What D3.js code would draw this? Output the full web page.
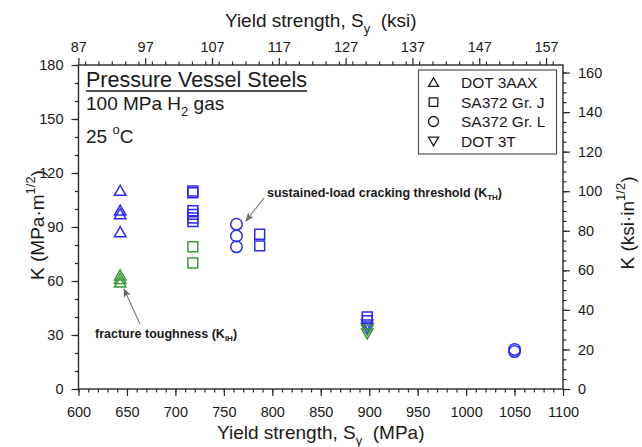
<!DOCTYPE html>
<html>
<head>
<meta charset="utf-8">
<script src="https://cdn.jsdelivr.net/npm/d3@7"></script>
<style>
  html, body { margin: 0; padding: 0; background: #fff; }
  svg { display: block; }
  text { font-family: Arial, "Liberation Sans", sans-serif; fill: #1a1a1a; }
</style>
</head>
<body>
<svg id="chart" width="642" height="447"></svg>
<script>
// Steel grades shown in the legend
const steels = ["DOT 3AAX", "SA372 Gr. J", "SA372 Gr. L", "DOT 3T"];

// [yield strength (MPa), K (MPa·m^1/2)] — sustained-load cracking threshold K_TH
const dot3aaxKTH = [[643, 110], [643, 99], [643, 97], [643, 87]];
const sa372jKTH  = [[718, 110], [718, 109], [718, 99], [718, 97], [718, 95], [718, 93],
                    [787, 86], [787, 79.5], [898, 40], [898, 38]];
const sa372lKTH  = [[763, 91.5], [763, 85], [763, 79], [1050, 22], [1050, 20.8]];
const dot3tKTH   = [[898, 36], [898, 34]];

// [yield strength (MPa), K (MPa·m^1/2)] — fracture toughness K_IH
const dot3aaxKIH = [[643, 63], [643, 61], [643, 59]];
const sa372jKIH  = [[718, 79], [718, 70]];
const dot3tKIH   = [[898, 33], [898, 31]];

// Tick labels
const mpaTicks     = [600, 650, 700, 750, 800, 850, 900, 950, 1000, 1050, 1100];
const ksiTicks     = [87, 97, 107, 117, 127, 137, 147, 157];
const kMetricTicks = [0, 30, 60, 90, 120, 150, 180];
const kUsTicks     = [0, 20, 40, 60, 80, 100, 120, 140, 160];

const MPA_PER_KSI = 6.895;
const MPAM_PER_KSIIN = 1.0988;

const svg = d3.select("#chart");
const L = 78.5, R = 563, T = 65, B = 389;

const x = d3.scaleLinear().domain([600, 1100]).range([L, R]);
const xKsi = d3.scaleLinear().domain([600 / MPA_PER_KSI, 1100 / MPA_PER_KSI]).range([L, R]);
const y = d3.scaleLinear().domain([0, 180]).range([B, T]);
const yUs = d3.scaleLinear().domain([0, 180 / MPAM_PER_KSIIN]).range([B, T]);

const axisColor = "#2a2a2a";
const tickFont = 14.5;

function styleAxis(g) {
  g.select(".domain").remove();
  g.selectAll(".tick line").attr("stroke", axisColor).attr("stroke-width", 1.2);
  g.selectAll(".tick text").attr("font-size", tickFont).attr("fill", "#1a1a1a")
    .attr("font-family", "Arial, 'Liberation Sans', sans-serif");
}

// Minor ticks
const minorMpa = d3.range(600, 1101, 10);
const minorKsi = d3.range(88, 160, 2);
const minorK = d3.range(0, 181, 10);
const minorUs = d3.range(0, 164, 5);

svg.append("g").attr("transform", `translate(0,${B})`)
  .call(d3.axisBottom(x).tickValues(minorMpa).tickSize(3.5).tickFormat(""))
  .call(styleAxis);
svg.append("g").attr("transform", `translate(0,${B})`)
  .call(d3.axisBottom(x).tickValues(mpaTicks).tickSize(7).tickPadding(11).tickFormat(d3.format("d")))
  .call(styleAxis);

svg.append("g").attr("transform", `translate(0,${T})`)
  .call(d3.axisTop(xKsi).tickValues(minorKsi).tickSize(3.5).tickFormat(""))
  .call(styleAxis);
svg.append("g").attr("transform", `translate(0,${T})`)
  .call(d3.axisTop(xKsi).tickValues(ksiTicks).tickSize(7).tickPadding(6).tickFormat(d3.format("d")))
  .call(styleAxis);

svg.append("g").attr("transform", `translate(${L},0)`)
  .call(d3.axisLeft(y).tickValues(minorK).tickSize(3.5).tickFormat(""))
  .call(styleAxis);
svg.append("g").attr("transform", `translate(${L},0)`)
  .call(d3.axisLeft(y).tickValues(kMetricTicks).tickSize(7).tickPadding(8).tickFormat(d3.format("d")))
  .call(styleAxis);

svg.append("g").attr("transform", `translate(${R},0)`)
  .call(d3.axisRight(yUs).tickValues(minorUs).tickSize(3.5).tickFormat(""))
  .call(styleAxis);
svg.append("g").attr("transform", `translate(${R},0)`)
  .call(d3.axisRight(yUs).tickValues(kUsTicks).tickSize(7).tickPadding(8).tickFormat(d3.format("d")))
  .call(styleAxis);

// Frame
svg.append("rect").attr("x", L).attr("y", T).attr("width", R - L).attr("height", B - T)
  .attr("fill", "none").attr("stroke", axisColor).attr("stroke-width", 1.4);

// Text with sub/superscripts
function richText(sel, parts, small) {
  parts.forEach(p => {
    const t = sel.append("tspan").text(p.t);
    if (p.sub) t.attr("font-size", small).attr("dy", 6);
    if (p.sup) t.attr("font-size", small).attr("dy", -9);
    if (p.back) t.attr("dy", p.back);
  });
}

const titleFont = 19;
const cx = (L + R) / 2;

const bottomTitle = svg.append("text").attr("x", cx).attr("y", 439)
  .attr("text-anchor", "middle").attr("font-size", titleFont);
richText(bottomTitle, [{t: "Yield strength, S"}, {t: "y", sub: true}, {t: "\u00a0 (MPa)", back: -6}], 13);

const topTitle = svg.append("text").attr("x", cx).attr("y", 27)
  .attr("text-anchor", "middle").attr("font-size", titleFont);
richText(topTitle, [{t: "Yield strength, S"}, {t: "y", sub: true}, {t: "\u00a0 (ksi)", back: -6}], 13);

const leftTitle = svg.append("text")
  .attr("transform", `translate(44,${(T + B) / 2 - 2}) rotate(-90)`)
  .attr("text-anchor", "middle").attr("font-size", titleFont);
richText(leftTitle, [{t: "K  (MPa\u00b7m"}, {t: "1/2", sup: true}, {t: ")", back: 9}], 13);

const rightTitle = svg.append("text")
  .attr("transform", `translate(634,${(T + B) / 2 - 4}) rotate(-90)`)
  .attr("text-anchor", "middle").attr("font-size", titleFont);
richText(rightTitle, [{t: "K  (ksi\u00b7in"}, {t: "1/2", sup: true}, {t: ")", back: 9}], 13);

// Heading block
const head = svg.append("text").attr("x", 86).attr("y", 86.5).attr("font-size", 21.5)
  .text("Pressure Vessel Steels");
const headW = head.node().getComputedTextLength();
svg.append("line").attr("x1", 86).attr("x2", 86 + headW).attr("y1", 91).attr("y2", 91)
  .attr("stroke", "#1a1a1a").attr("stroke-width", 1.4);

const gasLine = svg.append("text").attr("x", 86).attr("y", 110).attr("font-size", 19);
richText(gasLine, [{t: "100 MPa H"}, {t: "2", sub: true}, {t: " gas", back: -6}], 13);

const tempLine = svg.append("text").attr("x", 86).attr("y", 143).attr("font-size", 19);
richText(tempLine, [{t: "25 "}, {t: "o", sup: true}, {t: "C", back: 9}], 13);

// Marker shapes
function markerPath(kind, s) {
  const h = s / 2;
  if (kind === "tri") return `M0,${-h}L${h},${h * 0.75}L${-h},${h * 0.75}Z`;
  if (kind === "dtri") return `M0,${h}L${h},${-h * 0.75}L${-h},${-h * 0.75}Z`;
  if (kind === "sq") { const q = s * 0.43; return `M${-q},${-q}H${q}V${q}H${-q}Z`; }
  const r = s * 0.5;
  return `M${r},0A${r},${r} 0 1 1 ${-r},0A${r},${r} 0 1 1 ${r},0Z`;
}
const shapeOf = { "DOT 3AAX": "tri", "SA372 Gr. J": "sq", "SA372 Gr. L": "circ", "DOT 3T": "dtri" };

const blue = "#2a2af2";
const green = "#3c9a3c";

const series = [
  { steel: "DOT 3AAX", data: dot3aaxKTH, color: blue },
  { steel: "SA372 Gr. J", data: sa372jKTH, color: blue },
  { steel: "SA372 Gr. L", data: sa372lKTH, color: blue },
  { steel: "DOT 3T", data: dot3tKTH, color: blue },
  { steel: "DOT 3AAX", data: dot3aaxKIH, color: green },
  { steel: "SA372 Gr. J", data: sa372jKIH, color: green },
  { steel: "DOT 3T", data: dot3tKIH, color: green }
];

const plot = svg.append("g");
series.forEach(s => {
  plot.selectAll(null).data(s.data).join("path")
    .attr("transform", d => `translate(${x(d[0])},${y(d[1])})`)
    .attr("d", markerPath(shapeOf[s.steel], 11.5))
    .attr("fill", "none").attr("stroke", s.color).attr("stroke-width", 1.5);
});

// Legend
const lg = svg.append("g");
lg.append("rect").attr("x", 418.5).attr("y", 70).attr("width", 138).attr("height", 84)
  .attr("fill", "#fff").attr("stroke", "#555").attr("stroke-width", 1.2);
steels.forEach((name, i) => {
  const cy = 82.7 + i * 19.4;
  lg.append("path").attr("transform", `translate(433.5,${cy})`)
    .attr("d", markerPath(shapeOf[name], 10))
    .attr("fill", "none").attr("stroke", "#1a1a1a").attr("stroke-width", 1.3);
  lg.append("text").attr("x", 461).attr("y", cy + 5.6).attr("font-size", 15.5).text(name);
});

// Annotations with arrows
const defs = svg.append("defs");
defs.append("marker").attr("id", "arrowHead").attr("viewBox", "0 0 10 10")
  .attr("refX", 9).attr("refY", 5).attr("markerWidth", 9).attr("markerHeight", 9)
  .attr("markerUnits", "userSpaceOnUse").attr("orient", "auto")
  .append("path").attr("d", "M0,1L10,5L0,9L2.5,5Z").attr("fill", "#666");

svg.append("line").attr("x1", 264).attr("y1", 198).attr("x2", 246).attr("y2", 221)
  .attr("stroke", "#777").attr("stroke-width", 1.1).attr("marker-end", "url(#arrowHead)");
svg.append("line").attr("x1", 140).attr("y1", 324).attr("x2", 124).attr("y2", 289)
  .attr("stroke", "#777").attr("stroke-width", 1.1).attr("marker-end", "url(#arrowHead)");

const annoFont = "'Liberation Sans Narrow', 'Arial Narrow', Arial, sans-serif";
const kth = svg.append("text").attr("x", 267).attr("y", 197).attr("font-size", 12.5)
  .attr("font-weight", "bold").attr("font-family", annoFont).attr("fill", "#333");
kth.append("tspan").text("sustained-load cracking threshold (K");
kth.append("tspan").text("TH").attr("font-size", 8).attr("dy", 3);
kth.append("tspan").text(")").attr("dy", -3);

const kih = svg.append("text").attr("x", 95).attr("y", 338).attr("font-size", 12.5)
  .attr("font-weight", "bold").attr("font-family", annoFont).attr("fill", "#333");
kih.append("tspan").text("fracture toughness (K");
kih.append("tspan").text("IH").attr("font-size", 8).attr("dy", 3);
kih.append("tspan").text(")").attr("dy", -3);
</script>
</body>
</html>
